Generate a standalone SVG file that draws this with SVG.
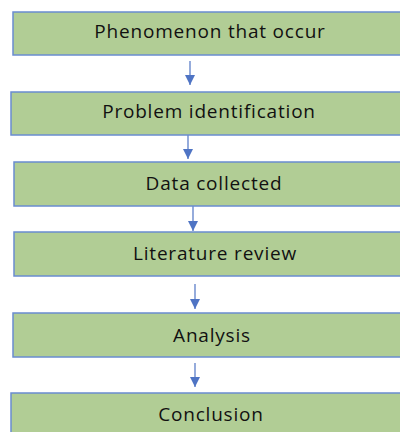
<svg xmlns="http://www.w3.org/2000/svg" width="400" height="432" viewBox="0 0 400 432">
  <style>
    .box { fill: #b1cd95; stroke: #6a8cd0; stroke-width: 1.5; }
    .label { font-family: "Open Sans", "Noto Sans", sans-serif; font-size: 19px; font-weight: 500; letter-spacing: 0.8px; fill: #111; text-anchor: middle; }
    .link { stroke: #4f74c4; stroke-width: 1.2; fill: none; marker-end: url(#head); }
  </style>
  <defs>
    <marker id="head" viewBox="0 0 10 10" refX="10" refY="5" markerWidth="10" markerHeight="10" markerUnits="userSpaceOnUse" orient="auto">
      <path d="M0,0 L10,5 L0,10 Z" fill="#4f74c4"/>
    </marker>
  </defs>

  <rect width="400" height="432" fill="#ffffff"/>

  <g id="connectors">
    <line class="link" x1="190" y1="61" x2="190" y2="85"/>
    <line class="link" x1="188" y1="135" x2="188" y2="159"/>
    <line class="link" x1="193" y1="206" x2="193" y2="231"/>
    <line class="link" x1="195" y1="284" x2="195" y2="309"/>
    <line class="link" x1="195" y1="363" x2="195" y2="387"/>
  </g>

  <g id="node-phenomenon">
    <rect class="box" x="13" y="12" width="400" height="43"/>
    <text class="label" x="210" y="38">Phenomenon that occur</text>
  </g>
  <g id="node-problem">
    <rect class="box" x="11" y="92" width="400" height="43"/>
    <text class="label" x="209" y="118">Problem identification</text>
  </g>
  <g id="node-data">
    <rect class="box" x="14" y="162" width="400" height="44"/>
    <text class="label" x="214" y="190">Data collected</text>
  </g>
  <g id="node-literature">
    <rect class="box" x="14" y="232" width="400" height="44"/>
    <text class="label" x="215" y="260">Literature review</text>
  </g>
  <g id="node-analysis">
    <rect class="box" x="13" y="313" width="400" height="44"/>
    <text class="label" x="212" y="342">Analysis</text>
  </g>
  <g id="node-conclusion">
    <rect class="box" x="11" y="393" width="400" height="60"/>
    <text class="label" x="211" y="421">Conclusion</text>
  </g>
</svg>
